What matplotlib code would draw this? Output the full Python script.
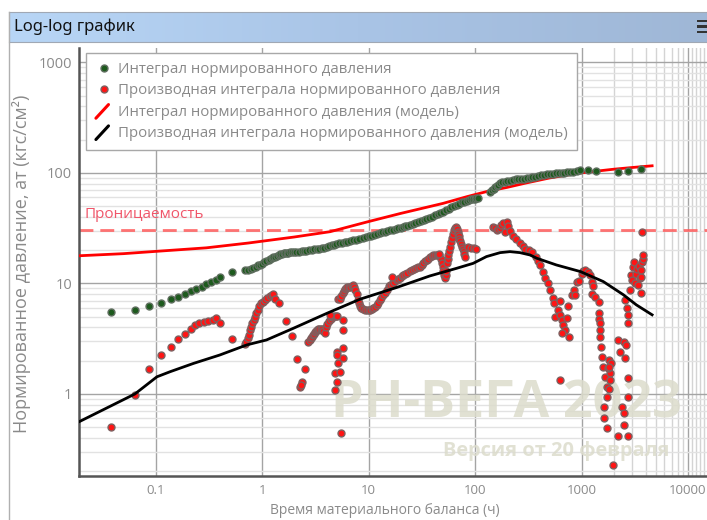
import numpy as np
import matplotlib.pyplot as plt
from matplotlib.lines import Line2D
from matplotlib.patches import Rectangle
from matplotlib.legend_handler import HandlerBase
from matplotlib.colors import LinearSegmentedColormap
from matplotlib.ticker import FixedLocator, NullFormatter

plt.rcParams['font.family'] = ['Open Sans', 'DejaVu Sans']

# integral of normalized pressure (points)
int_t = [0.038, 0.064, 0.087, 0.113, 0.139, 0.164, 0.19, 0.215, 0.24, 0.27,
         0.30, 0.335, 0.37, 0.40, 0.52, 0.69, 0.73, 0.78, 0.83, 0.88,
         0.92, 0.96, 1.0, 1.05, 1.1, 1.15, 1.2, 1.24, 1.28, 1.33,
         1.38, 1.43, 1.48, 1.53, 1.6, 1.65, 1.7, 1.76, 1.83, 1.9,
         2.0, 2.1, 2.2, 2.36, 2.48, 2.6, 2.75, 2.93, 3.1, 3.25,
         3.45, 3.63, 3.85, 4.05, 4.25, 4.5, 4.75, 5.0, 5.3, 5.6,
         5.95, 6.3, 6.7, 7.2, 7.7, 8.2, 8.8, 9.4, 10.0, 10.5,
         11.2, 12, 12.7, 13.5, 14.2, 15, 16, 17, 18, 19,
         20, 21, 22, 23, 24.5, 26, 27.5, 29, 31, 33,
         35, 37, 39.5, 42, 44.5, 47, 50, 53, 56.5, 60,
         63.5, 67, 71, 75, 79.5, 84, 88, 92, 96, 100,
         103, 106, 138, 144, 150, 155, 160, 166, 172, 181,
         190, 201, 213, 226, 240, 255, 270, 287, 305, 325,
         345, 367, 390, 415, 440, 472, 505, 540, 580, 615,
         650, 690, 727, 780, 840, 905, 977, 1150, 1380, 2200,
         2750, 3640]
int_p = [5.5, 5.8, 6.3, 6.7, 7.2, 7.6, 8.0, 8.5, 8.9, 9.3,
         9.8, 10.2, 10.8, 11.4, 12.8, 13.2, 13.3, 13.6, 13.9, 14.2,
         14.6, 14.8, 15.0, 15.5, 15.9, 16.2, 16.6, 16.9, 17.2, 17.5,
         17.8, 18.0, 18.3, 18.5, 18.7, 18.8, 18.9, 19.0, 19.2, 19.3,
         19.35, 19.4, 19.45, 19.5, 19.6, 19.8, 19.9, 20.1, 20.3, 20.4,
         20.6, 20.8, 21.1, 21.5, 21.8, 22.2, 22.4, 22.7, 23.0, 23.2,
         23.5, 23.8, 24.1, 24.5, 24.9, 25.3, 25.7, 26.2, 26.6, 27.0,
         27.5, 28.0, 28.5, 29.0, 29.4, 29.8, 30.2, 30.7, 31.1, 31.5,
         32.0, 32.5, 32.9, 33.3, 33.9, 34.5, 35.2, 36.0, 36.9, 37.8,
         38.5, 39.2, 40.3, 41.5, 42.5, 43.5, 44.7, 46.0, 47.5, 49.0,
         50.3, 51.5, 52.8, 54.0, 55.0, 56.0, 56.8, 57.5, 58.0, 58.5,
         58.8, 59.0, 67.6, 70.0, 72.0, 74.0, 76.0, 78.5, 80.7, 82.0,
         83.0, 84.0, 85.0, 86.3, 87.5, 88.0, 88.5, 89.0, 89.5, 90.5,
         91.5, 92.5, 93.5, 94.8, 96.0, 97.0, 98.0, 98.8, 99.5, 99.8,
         100, 100.5, 101, 102, 103, 104.5, 106, 106, 105, 101,
         105, 108.5]

# derivative of the integral (points)
der_t = [0.038, 0.064, 0.087, 0.112, 0.139, 0.164, 0.19, 0.215, 0.235, 0.258,
         0.286, 0.31, 0.345, 0.37, 0.40, 0.52,
         0.69, 0.71, 0.73, 0.75, 0.77, 0.79, 0.81, 0.835, 0.86, 0.885,
         0.91, 0.945, 0.98, 1.02, 1.07, 1.12, 1.19, 1.24, 1.28, 1.33,
         1.44, 1.67, 1.93, 2.15, 2.53, 2.39, 2.27, 2.33,
         2.72, 2.8, 2.88, 2.95, 3.03, 3.1, 3.15, 3.2, 3.26, 3.35,
         3.45, 3.55, 3.63, 3.75, 3.9, 3.98, 4.1, 4.25, 4.4, 4.5,
         4.62, 4.75, 4.9, 5.02, 5.13, 4.35,
         5.02, 5.2, 5.1, 4.85, 5.02, 4.85, 5.4, 5.8, 5.8, 5.8, 5.8, 5.47,
         5.4, 5.55, 5.7, 5.85, 6.0, 6.15, 6.3, 6.5, 6.7, 6.95,
         7.2, 7.35, 7.5, 7.75, 8.0, 8.15, 8.3, 8.55, 8.8, 9.2,
         9.6, 10.0, 10.3, 10.7, 11.1, 11.5, 11.9, 12.3, 12.8, 13.2,
         13.7, 14.2, 14.8, 15.5, 16.0, 16.5, 17.4, 18.4, 19.1, 19.8,
         20.5, 21.2, 22.2, 23.2, 24.3, 25.4, 26.6, 27.8, 29.1, 30.4,
         31.6, 32.8, 34.0, 35.2, 36.5, 37.8, 39.2, 40.6, 42, 43.5,
         44.9, 46.3, 47.5, 48.8, 49.6, 50.5, 51.5, 52.4, 53, 53.5,
         54.3, 55.2, 56, 57, 58, 59.2, 60.5, 61.6, 62.8, 64.7,
         66.7, 67.6, 68.5, 69.2, 70, 71.2, 72.5, 74, 75.5, 76.7,
         78, 79.2, 80.5,
         16.5, 46.3, 86.4, 92, 97, 102,
         147, 153, 160, 165, 170, 177, 184, 191, 198, 205,
         215, 228, 245, 264, 280, 296, 320, 346, 374, 390,
         407, 433, 457, 482, 506, 535, 555, 627, 565, 597,
         627, 650, 675, 700, 660, 770, 727, 753, 813, 845,
         913, 627,
         870, 950, 1000, 1040, 1080, 1140, 1200, 1250, 1290, 1250,
         1350, 1450, 1450, 1470, 1490, 1490, 1490, 1520, 1560, 1600,
         1660, 1720, 1720, 1640, 1640, 1720, 1990, 1800, 1880, 1850,
         1780, 1800, 1850, 1800,
         2200, 2290, 2480, 2600, 2560, 2720, 2720, 2400, 2480, 2530,
         2200, 2720, 2560, 2670, 2720, 2750, 2850, 2900, 2960, 3060,
         3100, 3200, 3270, 3300, 3400, 3500, 3530, 3600, 3640, 3700,
         3770, 3800, 3640, 3690]
der_p = [0.50, 0.98, 1.67, 2.24, 2.64, 3.13, 3.49, 3.87, 4.2, 4.36,
         4.48, 4.54, 4.67, 4.85, 4.36, 3.13,
         2.85, 2.97, 3.19, 3.45, 3.79, 4.05, 4.36, 4.7, 5.0, 5.35,
         5.75, 6.2, 6.6, 6.85, 7.08, 7.35, 7.7, 7.9, 8.0, 7.2,
         6.7, 4.57, 3.35, 2.07, 1.67, 1.27, 1.16, 1.2,
         2.97, 3.1, 3.2, 3.3, 3.42, 3.5, 3.6, 3.7, 3.79, 3.85,
         3.9, 3.88, 3.84, 3.7, 3.54, 4.07, 4.3, 4.6, 4.8, 5.0,
         5.02, 5.05, 5.07, 5.08, 7.2, 5.2,
         2.41, 1.89, 2.25, 1.54, 1.29, 1.09, 1.59, 2.59, 2.1, 3.79, 4.67, 0.44,
         7.3, 7.75, 8.2, 8.55, 8.9, 9.1, 9.3, 9.3, 9.3, 9.45,
         9.6, 9.2, 8.8, 8.1, 7.1, 6.6, 6.2, 6.0, 5.9, 5.8,
         5.75, 5.75, 5.8, 5.85, 5.95, 6.15, 6.4, 6.7, 7.08, 7.4,
         7.8, 8.2, 8.73, 9.4, 9.6, 9.8, 10.3, 10.7, 11.0, 11.3,
         11.6, 11.9, 12.2, 12.5, 12.9, 13.2, 13.5, 13.7, 14.0, 14.2,
         14.7, 15.2, 15.8, 16.3, 16.8, 17.2, 17.7, 18.1, 18.1, 18.1,
         18.1, 18.1, 16.6, 15.2, 14.0, 13.0, 12.0, 11.1, 12.0, 13.0,
         15.2, 16.5, 18.0, 19.7, 21.5, 23.7, 26.0, 28.2, 30.5, 31.6,
         32.6, 31.0, 29.5, 28.0, 26.6, 25.3, 24.0, 22.7, 21.5, 20.5,
         19.5, 18.5, 17.5,
         11.5, 18.5, 21.5, 21.0, 20.9, 20.4,
         32.6, 31.5, 30.5, 31.0, 31.5, 33.5, 35.0, 29.4, 36.3, 33.0,
         30.0, 27.0, 25.0, 23.1, 21.8, 20.4, 19.9, 19.4, 17.5, 16.0,
         14.7, 12.8, 11.1, 10.0, 8.73, 7.33, 6.6, 6.9, 5.0, 5.75,
         5.18, 4.67, 4.2, 3.79, 3.54, 3.3, 4.85, 6.25, 7.85, 8.73,
         10.4, 1.34,
         7.85, 10.5, 12.3, 12.9, 13.2, 12.6, 11.9, 10.4, 9.5, 8.1,
         7.6, 6.85, 5.37, 4.8, 4.36, 3.8, 3.3, 2.68, 2.17, 1.77,
         1.43, 1.16, 0.945, 0.77, 0.60, 0.49, 0.23, 2.03, 1.89, 1.54,
         1.7, 1.77, 1.34, 1.1,
         3.08, 2.41, 2.97, 2.77, 2.1, 1.39, 0.93, 0.77, 0.67, 0.52,
         0.42, 0.42, 7.1, 5.95, 5.18, 4.36, 8.7, 12.0, 10.7, 14.2,
         15.5, 10.0, 12.3, 13.5, 9.7, 14.5, 11.1, 11.5, 13.2, 15.5,
         16.8, 18.0, 8.25, 29.4]

# model curves
mod_int_t = [0.0191, 0.05, 0.1, 0.3, 0.74, 2, 4.36, 10, 20, 50,
             84, 130, 200, 300, 500, 977, 2000, 3000, 4600]
mod_int_p = [17.8, 18.6, 19.5, 21.0, 23.2, 26.3, 29.4, 36.3, 43.0, 53.0,
             61, 68, 74, 81, 90, 100, 108, 112, 116]
mod_der_t = [0.0191, 0.064, 0.103, 0.137, 0.227, 0.40, 0.72, 1.1, 1.97, 4.05,
             8.3, 18.4, 37.7, 67, 96, 128, 172, 213, 264, 328,
             380, 580, 977, 1600, 2470, 3270, 4600]
mod_der_p = [0.56, 1.0, 1.43, 1.59, 1.89, 2.25, 2.78, 3.08, 3.93, 5.36,
             7.2, 9.2, 11.7, 13.7, 15.2, 17.5, 19.0, 19.4, 19.0, 18.1,
             16.9, 14.7, 12.8, 10.4, 7.9, 6.4, 5.2]

perm_level = 30.5

x_ticks = [0.1, 1, 10, 100, 1000, 10000]
x_ticklabels = ['0.1', '1', '10', '100', '1000', '10000']
y_ticks = [1, 10, 100, 1000]
y_ticklabels = ['1', '10', '100', '1000']

legend_labels = ['Интеграл нормированного давления',
                 'Производная интеграла нормированного давления',
                 'Интеграл нормированного давления (модель)',
                 'Производная интеграла нормированного давления (модель)']

W, H = 707, 520
GRAY_TXT = '#8a8a8a'


def fx(px):
    return px / W


def fy(py):
    return 1 - py / H


class SlashHandler(HandlerBase):
    """Legend key drawn as a short diagonal stroke."""
    def create_artists(self, legend, orig_handle, xdescent, ydescent,
                       width, height, fontsize, trans):
        ln = Line2D([-xdescent + 0.05 * width, -xdescent + 0.75 * width],
                    [-ydescent - 0.25 * height, -ydescent + 1.05 * height],
                    color=orig_handle.get_color(), lw=2.2,
                    solid_capstyle='round')
        ln.set_transform(trans)
        return [ln]


fig = plt.figure(figsize=(W / 100, H / 100), dpi=100)

# window frame and title bar
fig.add_artist(Line2D([fx(9), fx(9)], [fy(12), 0], color='#b0b0b0', lw=1))
tb = fig.add_axes([fx(9), fy(42), fx(707 - 9), 30 / H])
tb_cmap = LinearSegmentedColormap.from_list('tb', ['#b8d6f6', '#a9c4e6', '#9fb7d6'])
tb.imshow(np.linspace(0, 1, 256)[None, :], aspect='auto', cmap=tb_cmap,
          extent=[0, 1, 0, 1])
tb.set_xlim(0, 1)
tb.set_ylim(0, 1)
tb.set_xticks([])
tb.set_yticks([])
for s in tb.spines.values():
    s.set_color('#a0a8b4')
    s.set_linewidth(0.8)
tb.text(5 / 698, 0.5, 'Log-log график', transform=tb.transAxes,
        ha='left', va='center', fontsize=12, color='#111111',
        family=['Noto Sans', 'DejaVu Sans'])
for yy in (21, 26.5, 32):
    fig.add_artist(Rectangle((fx(697), fy(yy + 1.3)), fx(12), 2.6 / H,
                             color='#333333', lw=0))

ax = fig.add_axes([fx(79), fy(476), fx(707 - 79), (476 - 48) / H])
ax.set_xscale('log')
ax.set_yscale('log')
ax.set_xlim(0.0191, 15070)
ax.set_ylim(0.181, 1350)
ax.set_axisbelow(True)

# grid: horizontal minor lines in every decade, vertical ones only near the end
ax.yaxis.set_major_locator(FixedLocator(y_ticks))
ax.yaxis.set_minor_locator(FixedLocator(
    [m * 10.0 ** e for e in range(-1, 4) for m in range(2, 10)]))
ax.xaxis.set_major_locator(FixedLocator(x_ticks))
ax.xaxis.set_minor_locator(FixedLocator([m * 1000 for m in range(2, 10)]
                                        + [11000, 12000, 13000, 14000]))
ax.set_xticklabels(x_ticklabels)
ax.set_yticklabels(y_ticklabels)
ax.xaxis.set_minor_formatter(NullFormatter())
ax.yaxis.set_minor_formatter(NullFormatter())
ax.grid(True, which='major', color='#a4a4a4', lw=1.0)
ax.grid(True, which='minor', axis='y', color='#e2e2e2', lw=1.0)
ax.grid(True, which='minor', axis='x', color='#d4d4d4', lw=1.0)
ax.tick_params(which='both', length=0)
ax.tick_params(axis='x', pad=6, labelsize=9.5, labelcolor=GRAY_TXT)
ax.tick_params(axis='y', pad=5, labelsize=10.5, labelcolor=GRAY_TXT)
for s in ('top', 'right'):
    ax.spines[s].set_visible(False)
for s in ('left', 'bottom'):
    ax.spines[s].set_color('#555555')
    ax.spines[s].set_linewidth(1.8)

# watermark
ax.text(fx(506), fy(404), 'РН-ВЕГА 2023', transform=fig.transFigure,
        ha='center', va='center', fontsize=37.5, fontweight='bold',
        color='#dcdccc', alpha=0.85, zorder=1)
ax.text(fx(556), fy(451), 'Версия от 20 февраля', transform=fig.transFigure,
        ha='center', va='center', fontsize=14.4, fontweight='bold',
        color='#dcdccc', alpha=0.85, zorder=1)

# permeability level
ax.axhline(perm_level, color='#ff5a5a', lw=2, dashes=(5, 2.5), alpha=0.85,
           zorder=2)
fig.text(fx(84), fy(215), 'Проницаемость', ha='left', va='center',
         fontsize=11, color='#f0566a')

ax.plot(mod_int_t, mod_int_p, color='#ff0000', lw=2, zorder=3)
h_int, = ax.plot(int_t, int_p, ls='none', marker='o', ms=5.0,
                 mfc='#1d5a1d', mec='#5f6e5f', mew=1.0, zorder=4)
h_der, = ax.plot(der_t, der_p, ls='none', marker='o', ms=5.0,
                 mfc='#ff1414', mec='#7e6060', mew=1.0, zorder=4)
ax.plot(mod_der_t, mod_der_p, color='#000000', lw=2, zorder=5)

leg_red = Line2D([], [], color='#ff0000')
leg_black = Line2D([], [], color='#000000')
ax.legend([h_int, h_der, leg_red, leg_black], legend_labels,
          handler_map={leg_red: SlashHandler(), leg_black: SlashHandler()},
          loc='upper left', bbox_to_anchor=(fx(86), fy(53)),
          bbox_transform=fig.transFigure, fontsize=10.8, labelcolor=GRAY_TXT,
          frameon=True, framealpha=1, edgecolor='#a8a8a8', fancybox=False,
          handlelength=1.2, handletextpad=0.33, labelspacing=0.42,
          borderpad=0.6, borderaxespad=0)

fig.text(fx(22), fy(264), 'Нормированное давление, ат (кгс/см²)', rotation=90,
         ha='center', va='center', fontsize=13, color=GRAY_TXT)
fig.text(fx(385), fy(511), 'Время материального баланса (ч)',
         ha='center', va='center', fontsize=10, color=GRAY_TXT)

fig.savefig('out.png', dpi=100)
